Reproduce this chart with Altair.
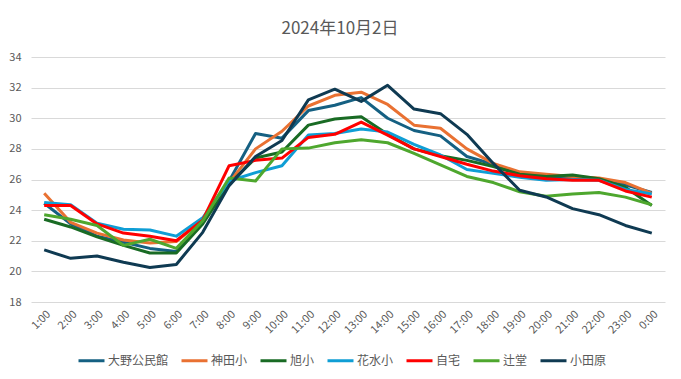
import altair as alt
import pandas as pd

hours = ["1:00", "2:00", "3:00", "4:00", "5:00", "6:00", "7:00", "8:00", "9:00", "10:00",
         "11:00", "12:00", "13:00", "14:00", "15:00", "16:00", "17:00", "18:00", "19:00",
         "20:00", "21:00", "22:00", "23:00", "0:00"]

sites = ["大野公民館", "神田小", "旭小", "花水小", "自宅", "辻堂", "小田原"]

oono = [24.45, 23.1, 22.3, 21.9, 21.5, 21.3, 23.2, 25.9, 29.0, 28.7, 30.5, 30.85,
        31.35, 30.0, 29.2, 28.85, 27.5, 27.0, 26.35, 26.2, 26.1, 26.05, 25.65, 25.15]
kanda = [25.1, 23.2, 22.5, 22.05, 21.85, 21.95, 23.4, 25.8, 28.0, 29.15, 30.8, 31.5,
         31.7, 30.9, 29.55, 29.35, 28.0, 27.05, 26.5, 26.35, 26.2, 26.1, 25.8, 25.1]
asahi = [23.4, 22.9, 22.25, 21.7, 21.2, 21.2, 23.1, 25.7, 27.4, 27.8, 29.55, 29.95,
         30.1, 28.95, 28.0, 27.55, 27.25, 26.85, 26.35, 26.2, 26.3, 26.05, 25.5, 24.3]
hanamizu = [24.5, 24.35, 23.15, 22.75, 22.7, 22.3, 23.5, 25.9, 26.45, 26.9, 28.9, 29.0,
            29.3, 29.1, 28.3, 27.6, 26.65, 26.4, 26.15, 25.95, 26.0, 25.95, 25.35, 25.05]
jitaku = [24.3, 24.3, 23.1, 22.5, 22.3, 22.0, 23.35, 26.9, 27.25, 27.4, 28.75, 28.95,
          29.75, 28.9, 28.0, 27.5, 27.0, 26.55, 26.25, 26.05, 25.95, 25.95, 25.25, 24.85]
tsujido = [23.7, 23.4, 23.0, 21.7, 22.1, 21.5, 23.3, 26.1, 25.9, 28.0, 28.05, 28.4,
           28.6, 28.4, 27.7, 26.95, 26.2, 25.8, 25.2, 24.9, 25.05, 25.15, 24.85, 24.35]
odawara = [21.4, 20.85, 21.0, 20.6, 20.25, 20.45, 22.55, 25.6, 27.5, 28.55, 31.2, 31.9,
           31.1, 32.15, 30.6, 30.3, 28.95, 27.05, 25.3, 24.86, 24.1, 23.7, 23.0, 22.5]

series = [oono, kanda, asahi, hanamizu, jitaku, tsujido, odawara]
colors = ["#156082", "#E97132", "#196B24", "#0F9ED5", "#FF0000", "#4EA72E", "#0F3A52"]
widths = [3, 3, 3, 3, 3.8, 3, 3]

rows = []
for name, vals in zip(sites, series):
    for h, v in zip(hours, vals):
        rows.append({"hour": h, "site": name, "temp": v})
df = pd.DataFrame(rows)

FONT = "Noto Sans CJK JP"
GRAY = "#595959"

chart = alt.Chart(df).mark_line(strokeJoin="round").encode(
    x=alt.X("hour:O", sort=hours, title=None,
            axis=alt.Axis(labelAngle=-45, domain=False, ticks=False, grid=False,
                          labelColor=GRAY, labelFontSize=11, labelFont=FONT,
                          labelPadding=6)),
    y=alt.Y("temp:Q", title=None,
            scale=alt.Scale(domain=[18, 34], nice=False, zero=False),
            axis=alt.Axis(values=list(range(18, 35, 2)), domain=False, ticks=False,
                          gridColor="#D9D9D9", gridWidth=1, labelColor=GRAY,
                          labelFontSize=11, labelFont=FONT, labelPadding=10)),
    color=alt.Color("site:N", sort=sites,
                    scale=alt.Scale(domain=sites, range=colors),
                    legend=alt.Legend(orient="none", legendX=46, legendY=289,
                                      direction="horizontal", columns=7, title=None,
                                      symbolType="stroke", symbolStrokeWidth=4,
                                      symbolSize=676, labelFontSize=12,
                                      labelColor=GRAY, labelFont=FONT,
                                      columnPadding=6, labelOffset=2)),
    strokeWidth=alt.StrokeWidth("site:N", sort=sites,
                                scale=alt.Scale(domain=sites, range=widths),
                                legend=None),
).properties(
    width=634,
    height=245,
    title=alt.TitleParams("2024年10月2日", fontSize=17, color=GRAY, font=FONT,
                          fontWeight="normal", anchor="middle", dx=-8, offset=0,
                          baseline="alphabetic"),
    autosize=alt.AutoSizeParams(type="none"),
    padding={"left": 23, "top": 49, "right": 8, "bottom": 70},
    background="white",
).configure_view(stroke=None)

chart.save("out.html", embed_options={"renderer": "svg", "actions": False})
